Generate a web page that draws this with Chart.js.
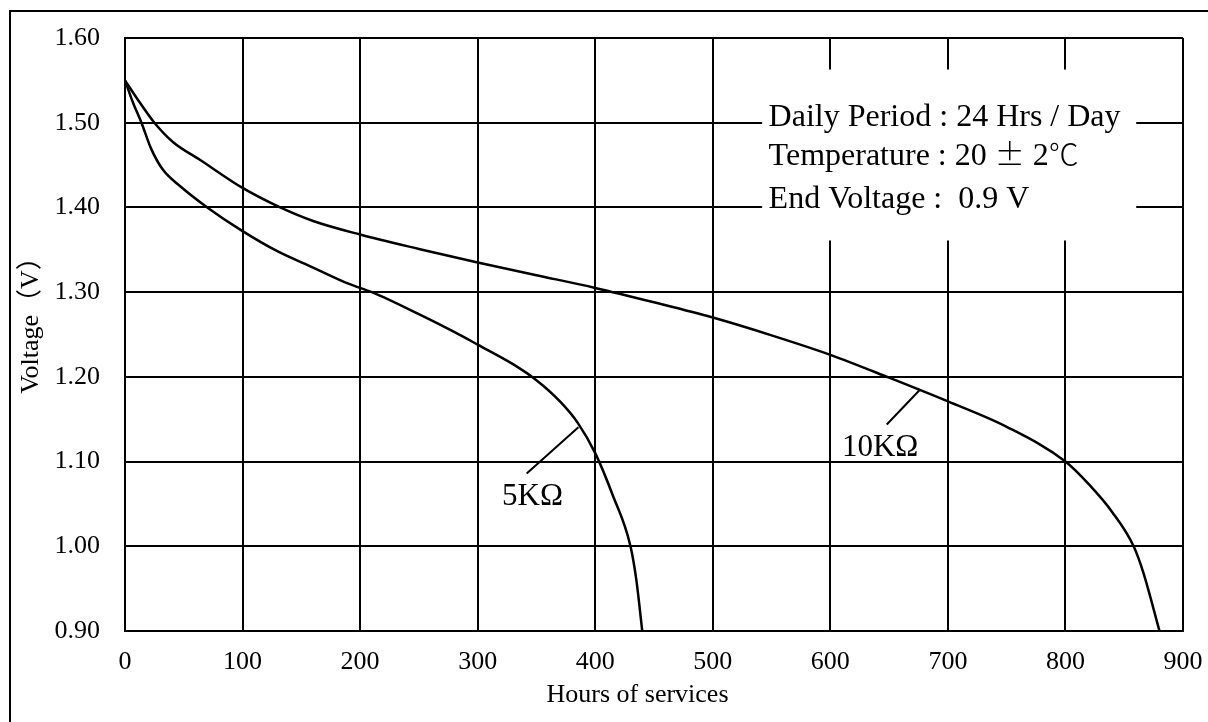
<!DOCTYPE html>
<html><head><meta charset="utf-8">
<script src="https://cdn.jsdelivr.net/npm/chart.js@4.4.0/dist/chart.umd.min.js"></script>
<style>html,body{margin:0;padding:0;background:#fff;overflow:hidden}#wrap{width:1208px;height:722px;position:relative}</style>
</head><body><div id="wrap"><canvas id="c" width="1208" height="722"></canvas></div>
<script>
// ---- data ----
const hours5K  = [0, 7, 14, 22, 32, 47, 70, 100, 130, 160, 190, 210, 250, 280, 300, 330, 350, 370, 385, 400, 415, 430, 435, 440];
const volts5K  = [1.55, 1.523, 1.50, 1.47, 1.445, 1.425, 1.40, 1.372, 1.348, 1.329, 1.310, 1.30, 1.274, 1.253, 1.238, 1.215, 1.196, 1.171, 1.146, 1.11, 1.06, 1.00, 0.96, 0.90];
const hours10K = [0, 12, 25, 41, 64, 100, 132, 160, 200, 250, 300, 350, 400, 450, 500, 550, 600, 650, 700, 750, 800, 820, 840, 858, 866, 880];
const volts10K = [1.55, 1.525, 1.50, 1.477, 1.456, 1.423, 1.40, 1.384, 1.368, 1.351, 1.335, 1.32, 1.305, 1.288, 1.27, 1.249, 1.226, 1.199, 1.171, 1.141, 1.10, 1.073, 1.04, 1.00, 0.97, 0.90];
const xTickValues = [0, 100, 200, 300, 400, 500, 600, 700, 800, 900];
const yTickValues = [0.90, 1.00, 1.10, 1.20, 1.30, 1.40, 1.50, 1.60];
const seriesNames = ['5KΩ', '10KΩ'];
const conditionLines = ['Daily Period : 24 Hrs / Day', 'Temperature : 20 ± 2℃', 'End Voltage :  0.9 V'];
const xTitle = 'Hours of services';
const yTitle = 'Voltage（V）';

const SERIF = '"Liberation Serif", "Times New Roman", "Noto Sans CJK SC", serif';
const CJK = '"Noto Sans CJK SC", "Liberation Serif", serif';
const CJK_CHARS = '±℃（）';

function toPoints(xs, ys){ return xs.map((h,i)=>({x:h, y:ys[i]})); }

// draw text char-runs, CJK symbols in a CJK font
function drawRuns(ctx, text, x, y, size){
  let runs = [], cur = '', curCjk = null;
  for (const ch of text){
    const c = CJK_CHARS.includes(ch);
    if (curCjk === null || c === curCjk){ cur += ch; curCjk = c; }
    else { runs.push([cur, curCjk]); cur = ch; curCjk = c; }
  }
  if (cur) runs.push([cur, curCjk]);
  let px = x;
  runs.forEach(([t, c])=>{
    ctx.font = (c ? '300 ' + (size - 2) + 'px ' + CJK : size + 'px ' + SERIF);
    ctx.fillText(t, px, y);
    px += ctx.measureText(t).width;
  });
}

const decor = {
  id: 'decor',
  beforeDraw(chart){
    const ctx = chart.ctx;
    ctx.save();
    ctx.fillStyle = '#fff';
    ctx.fillRect(0,0,chart.width,chart.height);
    ctx.strokeStyle = '#000';
    ctx.lineWidth = 2;
    ctx.strokeRect(10, 11, 1400, 1000);
    ctx.restore();
  },
  afterDraw(chart){
    const {ctx, scales:{x}} = chart;
    ctx.save();
    ctx.fillStyle = '#000';
    ctx.font = '26px ' + SERIF;
    ctx.textAlign = 'center';
    ctx.textBaseline = 'middle';
    // x axis title
    ctx.fillText(xTitle, x.getPixelForValue(436), 695);
    // y axis title (rotated)
    ctx.translate(31, 319);
    ctx.rotate(-Math.PI / 2);
    ctx.fillText(yTitle, 0, 0);
    ctx.restore();
  },
  afterDatasetsDraw(chart){
    const {ctx, scales:{x, y}} = chart;
    ctx.save();
    // condition box (white, hides grid)
    const bx0 = x.getPixelForValue(542), bx1 = x.getPixelForValue(860.2);
    const by0 = y.getPixelForValue(1.5628), by1 = y.getPixelForValue(1.361);
    ctx.fillStyle = '#fff';
    ctx.fillRect(bx0, by0, bx1 - bx0, by1 - by0);
    ctx.fillStyle = '#000';
    ctx.textAlign = 'left';
    ctx.textBaseline = 'alphabetic';
    const tx = x.getPixelForValue(547.5);
    const baseV = [1.4967, 1.4495, 1.3999];
    conditionLines.forEach((t,i)=> drawRuns(ctx, t, tx, y.getPixelForValue(baseV[i]), 32));

    // series labels with leader lines
    ctx.strokeStyle = '#000';
    ctx.lineWidth = 2;
    const leaders = [
      {from:[341.7,1.0858], to:[385.7,1.1405], label:[346.7,1.0492]},
      {from:[648,1.1437], to:[676.4,1.185], label:[642.4,1.1063]}
    ];
    ctx.font = '31px ' + SERIF;
    ctx.textAlign = 'center';
    leaders.forEach((L,i)=>{
      ctx.beginPath();
      ctx.moveTo(x.getPixelForValue(L.from[0]), y.getPixelForValue(L.from[1]));
      ctx.lineTo(x.getPixelForValue(L.to[0]), y.getPixelForValue(L.to[1]));
      ctx.stroke();
      ctx.fillText(seriesNames[i], x.getPixelForValue(L.label[0]), y.getPixelForValue(L.label[1]));
    });
    ctx.restore();
  }
};

new Chart(document.getElementById('c'), {
  type: 'scatter',
  data: {
    datasets: [
      {label: seriesNames[0], data: toPoints(hours5K, volts5K), showLine: true, borderColor: '#000', borderWidth: 2.5, pointRadius: 0, cubicInterpolationMode: 'monotone', fill: false},
      {label: seriesNames[1], data: toPoints(hours10K, volts10K), showLine: true, borderColor: '#000', borderWidth: 2.5, pointRadius: 0, cubicInterpolationMode: 'monotone', fill: false}
    ]
  },
  options: {
    responsive: false,
    animation: false,
    events: [],
    layout: {padding: {left: 0, top: 38, right: 25, bottom: 0}},
    plugins: {legend: {display: false}, tooltip: {enabled: false}},
    scales: {
      x: {
        type: 'linear', min: 0, max: 900,
        afterBuildTicks(s){ s.ticks = xTickValues.map(v=>({value:v})); },
        afterFit(s){ s.height = 91; s.paddingLeft = 0; s.paddingRight = 0; },
        grid: {color: '#000', lineWidth: 2, drawTicks: false},
        border: {display: true, color: '#000', width: 2},
        ticks: {color: '#000', padding: 16, font: {family: SERIF, size: 26}, maxRotation: 0, autoSkip: false},
        title: {display: false}
      },
      y: {
        type: 'linear', min: 0.9, max: 1.6,
        afterBuildTicks(s){ s.ticks = yTickValues.map(v=>({value:v})); },
        afterFit(s){ s.width = 125; s.paddingTop = 0; s.paddingBottom = 0; },
        grid: {color: '#000', lineWidth: 2, drawTicks: false},
        border: {display: true, color: '#000', width: 2},
        ticks: {color: '#000', padding: 25, font: {family: SERIF, size: 26}, callback: v => Number(v).toFixed(2), autoSkip: false},
        title: {display: false}
      }
    }
  },
  plugins: [decor]
});
</script></body></html>
